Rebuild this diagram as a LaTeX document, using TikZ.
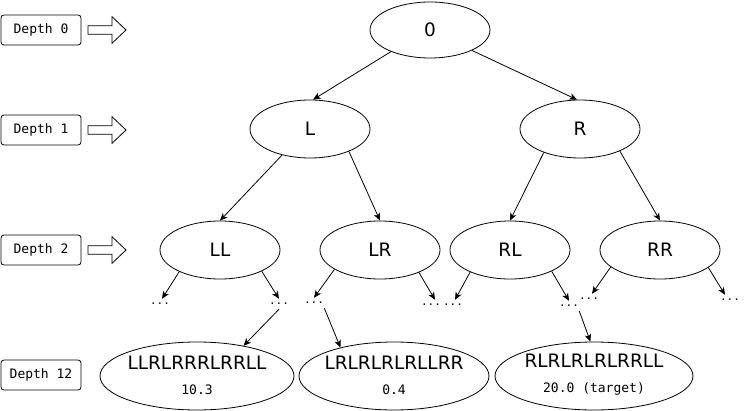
\documentclass[tikz,border=0pt]{standalone}
\usepackage{fontspec}
\newfontfamily\sansf{DejaVu Sans}
\newfontfamily\monof{DejaVu Sans Mono}
\usetikzlibrary{shapes.geometric,arrows.meta}
\begin{document}
\begin{tikzpicture}[x=1pt,y=-1pt,
  line width=0.8pt,
  depthbox/.style={draw, rounded corners=3pt, minimum width=80pt, minimum height=30pt, inner sep=0pt, font=\monof\fontsize{13}{13}\selectfont},
  tnode/.style={draw, ellipse, minimum width=120pt, minimum height=58pt, inner sep=0pt, font=\sansf\fontsize{18.5}{20}\selectfont},
  leaf/.style={draw, ellipse, minimum height=68pt, inner sep=0pt},
  leaftext/.style={align=center, inner sep=0pt},
  dots/.style={inner xsep=0pt, inner ysep=4pt, font=\monof\fontsize{11}{11}\selectfont},
  arr/.style={-{Stealth[length=7.5pt,width=6.5pt,inset=2pt]}},
  blockarrow/.pic={\draw (0,-4.2) -- (24,-4.2) -- (24,-13.3) -- (38,0) -- (24,13.3) -- (24,4.2) -- (0,4.2) -- cycle;}
]
\useasboundingbox (0,0) rectangle (751,411);

% depth labels
\node[depthbox] (dep0) at (41,30) {Depth 0};
\node[depthbox] (dep1) at (41,130) {Depth 1};
\node[depthbox] (dep2) at (41,250) {Depth 2};
\node[depthbox] (dep12) at (41,375) {Depth 12};
\pic at (88,30) {blockarrow};
\pic at (88,130) {blockarrow};
\pic at (88,250) {blockarrow};

% tree
\node[tnode, minimum height=56pt] (root) at (430,30) {0};
\node[tnode] (L) at (310,129) {L};
\node[tnode] (R) at (580,129) {R};
\node[tnode] (LL) at (220,250) {LL};
\node[tnode] (LR) at (380,250) {LR};
\node[tnode] (RL) at (510,250) {RL};
\node[tnode] (RR) at (660,250) {RR};

\draw[arr] (root.209) -- (L.84);
\draw[arr] (root.334) -- (R.96);
\draw[arr] (L.223) -- (LL.north);
\draw[arr] (L.330) -- (LR.north);
\draw[arr] (R.213) -- (RL.north);
\draw[arr] (R.331) -- (RR.north);

% dots
\node[dots] (d1) at (160,304) {...};
\node[dots] (d2) at (279,304) {...};
\node[dots] (d3) at (314,303) {...};
\node[dots] (d4) at (431,305) {...};
\node[dots] (d5) at (453,305) {...};
\node[dots] (d6) at (569,306) {...};
\node[dots] (d7) at (589,299) {...};
\node[dots] (d8) at (730,300) {...};

\draw[arr] (LL.208) -- ([xshift=2pt]d1.north);
\draw[arr] (LL.333) -- (d2.north);
\draw[arr] (LR.203) -- (d3.north);
\draw[arr] (LR.330) -- ([xshift=4pt]d4.north);
\draw[arr] (RL.209) -- ([xshift=2pt]d5.north);
\draw[arr] (RL.333) -- (d6.north);
\draw[arr] (RR.199) -- ([xshift=3pt]d7.north);
\draw[arr] (RR.340) -- ([xshift=-5pt]d8.north);

% leaves
\node[leaf, minimum width=194pt] (f1) at (197,376) {};
\node[leaf, minimum width=190pt] (f2) at (394,376) {};
\node[leaf, minimum width=198pt] (f3) at (594,376) {};
\node[leaftext] (t1) at ([yshift=1pt]f1.center) {{\sansf\fontsize{18.5}{20}\selectfont LLRLRRRLRRLL}\\[13pt]{\monof\fontsize{13}{14}\selectfont 10.3}};
\node[leaftext] (t2) at ([yshift=1pt]f2.center) {{\sansf\fontsize{18.5}{20}\selectfont LRLRLRLRLLRR}\\[13pt]{\monof\fontsize{13}{14}\selectfont 0.4}};
\node[leaftext] (t3) at ([yshift=1pt]f3.center) {{\sansf\fontsize{18.5}{20}\selectfont RLRLRLRLRRLL}\\[13pt]{\monof\fontsize{13}{14}\selectfont 20.0 (target)}};

\draw[arr] (d2.south) -- (f1.33);
\draw[arr] (d3.south east) -- (f2.152);
\draw[arr] (d6.south east) -- (f3.96);
\end{tikzpicture}
\end{document}
